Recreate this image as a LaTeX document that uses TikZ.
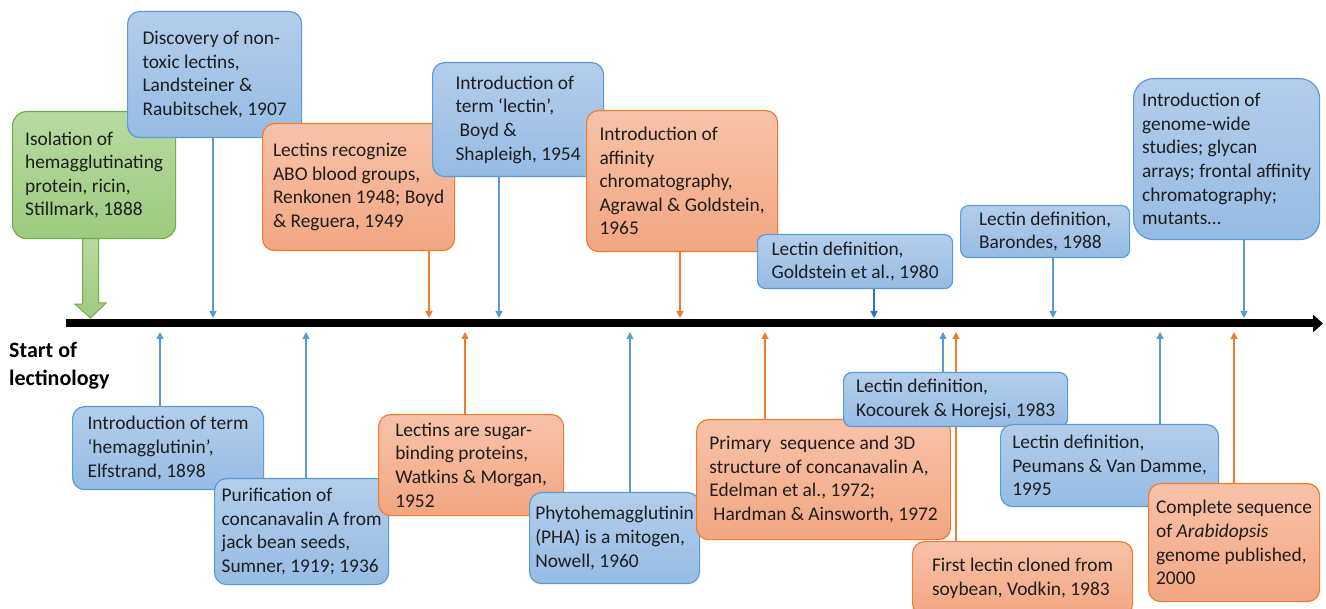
\documentclass[tikz,border=0pt]{standalone}
\usepackage{fontspec}
\setmainfont{Carlito}
\usetikzlibrary{arrows.meta,calc}
\definecolor{BlueLine}{RGB}{91,155,213}
\definecolor{BlueTop}{RGB}{180,205,235}
\definecolor{BlueBot}{RGB}{150,188,229}
\definecolor{DarkBlue}{RGB}{46,117,182}
\definecolor{OrangeLine}{RGB}{237,125,49}
\definecolor{OrangeTop}{RGB}{247,194,168}
\definecolor{OrangeBot}{RGB}{243,166,130}
\definecolor{GreenLine}{RGB}{112,173,71}
\definecolor{GreenTop}{RGB}{184,218,160}
\definecolor{GreenBot}{RGB}{158,203,128}
\definecolor{TextGray}{RGB}{30,30,30}
\pgfdeclarelayer{background}
\pgfsetlayers{background,main}

\begin{document}
\begin{tikzpicture}[
      x=1pt,y=-1pt,
      bNode/.style={draw=BlueLine,top color=BlueTop,bottom color=BlueBot,rounded corners=12pt,
                    anchor=north west,align=left,inner xsep=3pt,inner ysep=2pt,
                    font=\fontsize{19.4}{23.6}\selectfont,text=TextGray,line width=1.2pt},
      oNode/.style={draw=OrangeLine,top color=OrangeTop,bottom color=OrangeBot,rounded corners=12pt,
                    anchor=north west,align=left,inner xsep=3pt,inner ysep=2pt,
                    font=\fontsize{19.4}{23.6}\selectfont,text=TextGray,line width=1.2pt},
      gNode/.style={draw=GreenLine,top color=GreenTop,bottom color=GreenBot,rounded corners=14pt,
                    anchor=north west,align=left,inner xsep=3pt,inner ysep=2pt,
                    font=\fontsize{19.4}{23.6}\selectfont,text=TextGray,line width=1.2pt},
      bAr/.style={-{Triangle[length=7pt,width=7pt]},line width=1.3pt,color=BlueLine},
      oAr/.style={-{Triangle[length=7pt,width=7pt]},line width=1.3pt,color=OrangeLine},
      axis/.style={-{Triangle[length=10pt,width=17pt]},line width=8pt,color=black}
    ]
    \useasboundingbox (0,0) rectangle (1326,609);

    % Time axis
    \coordinate (ax0) at (66,323.5);
    \coordinate (ax1) at (1323,323.5);
    \draw[axis] (ax0) -- (ax1);
    \node(start)[anchor=north west,align=left,inner sep=0pt,
      font=\fontsize{22}{27.7}\selectfont\bfseries] at (9,342) {Start of\\lectinology};

    % Ticks above the axis (arrows pointing down)
    \coordinate (d1) at (90.5,318);
    \coordinate (d2) at (213,318);
    \coordinate (d3) at (429,318);
    \coordinate (d4) at (499,318);
    \coordinate (d5) at (680,318);
    \coordinate (d6) at (874,318);
    \coordinate (d7) at (1053,318);
    \coordinate (d8) at (1244,318);

    % Ticks below the axis (arrows pointing up)
    \coordinate (u9) at (160,332);
    \coordinate (u10) at (306,332);
    \coordinate (u11) at (465,332);
    \coordinate (u12) at (630,332);
    \coordinate (u13) at (765,332);
    \coordinate (u14) at (943,332);
    \coordinate (u15) at (956,332);
    \coordinate (u16) at (1160,332);
    \coordinate (u17) at (1234,332);

    % Row 1: events above the axis
    \node(n1)[gNode,minimum width=163pt,minimum height=127pt] at (12,111)
      {Isolation of\\hemagglutinating\\protein, ricin,\\Stillmark, 1888};
    \node(n2)[bNode,minimum width=174pt,minimum height=126pt] at (127,11)
      {Discovery of non-\\toxic lectins,\\Landsteiner \&\\Raubitschek, 1907};
    \node(n3)[oNode,minimum width=192pt,minimum height=127pt] at (262,123)
      {Lectins recognize\\ABO blood groups,\\Renkonen 1948; Boyd\\\& Reguera, 1949};
    \node(n4)[bNode,minimum width=171pt,minimum height=114pt] at (432,62)
      {Introduction of\\term ‘lectin’,\\\hspace*{4pt}Boyd \&\\Shapleigh, 1954};
    \node(n5)[oNode,minimum width=191pt,minimum height=141pt] at (586,110)
      {Introduction of\\affinity\\chromatography,\\Agrawal \& Goldstein,\\1965};
    \node(n6)[bNode,rounded corners=8pt,minimum width=195pt,minimum height=54pt] at (757,234)
      {Lectin definition,\\Goldstein et al., 1980};
    \node(n7)[bNode,rounded corners=8pt,minimum width=169pt,minimum height=52pt] at (960,205)
      {Lectin definition,\\Barondes, 1988};
    \node(n8)[bNode,rounded corners=20pt,minimum width=186pt,minimum height=161pt] at (1133,78)
      {Introduction of\\genome-wide\\studies; glycan\\arrays; frontal affinity\\chromatography;\\mutants…};

    % Row 2: events below the axis
    \node(n9)[bNode,minimum width=191pt,minimum height=83pt] at (72,406)
      {Introduction of term\\‘hemagglutinin’,\\Elfstrand, 1898};
    \node(n10)[bNode,minimum width=174pt,minimum height=106pt] at (214,478)
      {Purification of\\concanavalin A from\\jack bean seeds,\\Sumner, 1919; 1936};
    \node(n11)[oNode,minimum width=185pt,minimum height=101pt] at (378,414)
      {Lectins are sugar-\\binding proteins,\\Watkins \& Morgan,\\1952};
    \node(n12)[bNode,minimum width=170pt,minimum height=91pt] at (529,492)
      {Phytohemagglutinin\\(PHA) is a mitogen,\\Nowell, 1960};
    \node(n13)[oNode,minimum width=254pt,minimum height=120pt] at (696,419)
      {Primary\ \ sequence and 3D\\structure of concanavalin A,\\Edelman et al., 1972;\\\hspace*{4pt}Hardman \& Ainsworth, 1972};
    \node(n14)[bNode,rounded corners=8pt,minimum width=224pt,minimum height=54pt] at (843,372)
      {Lectin definition,\\Kocourek \& Horejsi, 1983};
    \node(n15)[oNode,minimum width=220pt,minimum height=74pt] at (912,541)
      {First lectin cloned from\\soybean, Vodkin, 1983};
    \node(n16)[bNode,minimum width=218pt,minimum height=82pt] at (1000,424)
      {Lectin definition,\\Peumans \& Van Damme,\\1995};
    \node(n17)[oNode,minimum width=171pt,minimum height=118pt] at (1148,483)
      {Complete sequence\\of \textit{Arabidopsis}\\genome published,\\2000};

    \begin{pgfonlayer}{background}
      % Wide arrow of the first event
      \draw[draw=GreenLine,top color=GreenTop,bottom color=GreenBot,line width=1pt]
        (d1 |- n1.south) ++(-8,-2) -- ++(0,67) -- ++(-7.5,0) -- (d1)
        -- ++(15.5,-15) -- ++(-7.5,0) -- ++(0,-67) -- cycle;

      % Arrows down to the axis
      \draw[bAr] (d2 |- n2.south) -- (d2);
      \draw[oAr] (d3 |- n3.south) -- (d3);
      \draw[bAr] (d4 |- n4.south) -- (d4);
      \draw[oAr] (d5 |- n5.south) -- (d5);
      \draw[bAr,color=DarkBlue] (d6 |- n6.south) -- (d6);
      \draw[bAr] (d7 |- n7.south) -- (d7);
      \draw[bAr] (d8 |- n8.south) -- (d8);

      % Arrows up to the axis
      \draw[bAr] (u9 |- n9.north) -- (u9);
      \draw[bAr] (u10 |- n10.north) -- (u10);
      \draw[oAr] (u11 |- n11.north) -- (u11);
      \draw[bAr] (u12 |- n12.north) -- (u12);
      \draw[oAr] (u13 |- n13.north) -- (u13);
      \draw[bAr] (u14 |- n14.north) -- (u14);
      \draw[oAr] (u15 |- n15.north) -- (u15);
      \draw[bAr] (u16 |- n16.north) -- (u16);
      \draw[oAr] (u17 |- n17.north) -- (u17);
    \end{pgfonlayer}
  \end{tikzpicture}
\end{document}
